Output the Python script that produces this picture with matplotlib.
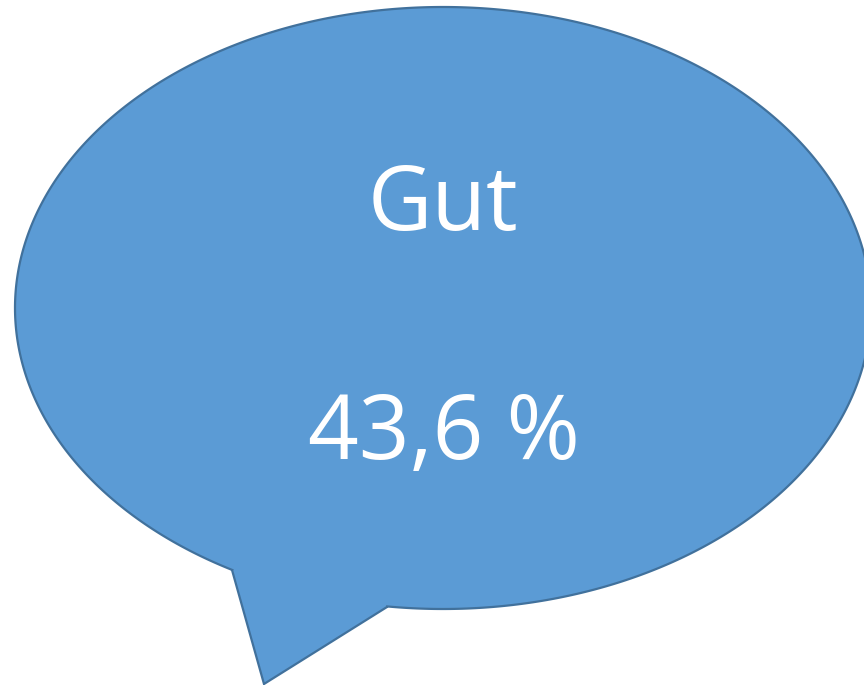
import numpy as np
import matplotlib
matplotlib.use("Agg")
import matplotlib.pyplot as plt
from matplotlib.patches import Polygon

label = "Gut"
value = 43.6

W, H, DPI = 864, 685, 100
fig = plt.figure(figsize=(W / DPI, H / DPI), dpi=DPI)
ax = fig.add_axes([0, 0, 1, 1])
ax.set_xlim(0, W)
ax.set_ylim(H, 0)
ax.axis("off")

# speech bubble geometry (pixel space, y down)
cx, cy, a, b = 443, 308, 428, 301
p_left = (232, 570)
p_tip = (264, 684)
p_right = (387, 607)
t_left = np.arctan2((p_left[1] - cy) / b, (p_left[0] - cx) / a)
t_right = np.arctan2((p_right[1] - cy) / b, (p_right[0] - cx) / a)
ts = np.linspace(t_left, t_right + 2 * np.pi, 600)
pts = np.column_stack([cx + a * np.cos(ts), cy + b * np.sin(ts)])
pts = np.vstack([pts, [p_right, p_tip, p_left]])
ax.add_patch(Polygon(pts, closed=True, facecolor="#5B9BD5", edgecolor="#41719C",
                     linewidth=1.6, joinstyle="miter"))

font = ["Open Sans", "DejaVu Sans"]
ax.text(443, 230, label, ha="center", va="baseline", color="white",
        fontsize=64, family=font)
ax.text(444, 459, f"{value:.1f}".replace(".", ",") + " %", ha="center",
        va="baseline", color="white", fontsize=64, family=font)

fig.savefig("out.png", dpi=DPI)
